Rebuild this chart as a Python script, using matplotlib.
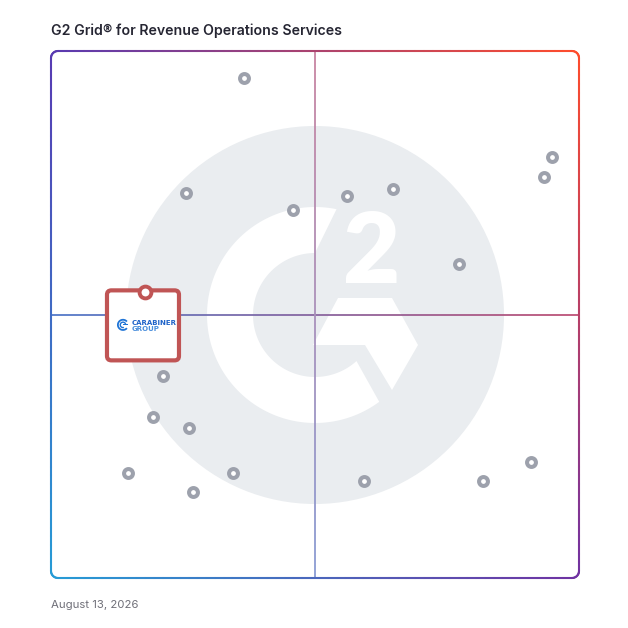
import numpy as np
import matplotlib
matplotlib.use("Agg")
import matplotlib.pyplot as plt
from matplotlib.collections import LineCollection
from matplotlib.patches import Circle, Polygon, FancyBboxPatch, Wedge, Rectangle

# ---------------- data ----------------
title = "G2 Grid\u00ae for Revenue Operations Services"
date_label = "August 13, 2026"
# market presence (x, 0-100) and satisfaction (y, 0-100) of the vendors
market_presence = [36.6, 25.5, 45.8, 56.1, 64.8, 77.3, 93.4, 94.8,
                   21.3, 19.4, 26.2, 14.6, 26.8, 34.4, 59.3, 81.9, 91.0]
satisfaction = [94.8, 73.1, 69.8, 72.4, 73.8, 59.6, 76.0, 79.8,
                38.3, 30.5, 28.5, 20.0, 16.4, 20.0, 18.5, 18.5, 22.1]
highlight_lines = ["CARABINER", "GROUP"]
highlight_x = 17.8
highlight_y = 54.2

# ---------------- layout ----------------
W = H = 628
fig = plt.figure(figsize=(6.28, 6.28), dpi=100)
fig.patch.set_facecolor("white")


def P(x, y):
    return (x / W, 1 - y / H)


L, T, R, B = 51, 51, 579, 578
ax = fig.add_axes([L / W, 1 - B / H, (R - L) / W, (B - T) / H])
ax.set_xlim(0, 100)
ax.set_ylim(0, 100)
ax.axis("off")
ax.patch.set_visible(False)
FT = fig.transFigure

# ---------------- G2 watermark ----------------
gray = "#eaedf0"
cx, cy = 315, 315
ax.add_patch(Circle(P(cx, cy), 189 / W, transform=FT, color=gray, zorder=0, clip_on=False, lw=0))

r_out, r_in = 108, 62
outer = np.linspace(np.deg2rad(78.5), np.deg2rad(306.5), 120)
inner = np.linspace(np.deg2rad(312), np.deg2rad(90), 120)
pts = [P(cx + r_out * np.cos(a), cy - r_out * np.sin(a)) for a in outer]
pts += [P(cx + r_in * np.cos(a), cy - r_in * np.sin(a)) for a in inner]
ax.add_patch(Polygon(pts, closed=True, transform=FT, color="white", lw=0, zorder=0.5, clip_on=False))

chev = [(338, 298), (392, 298), (418, 345), (392, 390), (365, 345), (313, 345)]
ax.add_patch(Polygon([P(*p) for p in chev], closed=True, transform=FT, color="white",
                     lw=0, zorder=0.5, clip_on=False))
fig.text(372 / W, 1 - 283 / H, "2", fontsize=71, fontweight="heavy", family="Lato",
         color="white", ha="center", va="baseline", zorder=0.6)

# ---------------- gradient frame ----------------
TLc = np.array([88, 58, 178]) / 255
TRc = np.array([255, 76, 44]) / 255
BLc = np.array([38, 156, 214]) / 255
BRc = np.array([112, 50, 162]) / 255


def bilinear(px, py):
    u = (px - L) / (R - L)
    v = (py - T) / (B - T)
    top = (1 - u) * TLc + u * TRc
    bot = (1 - u) * BLc + u * BRc
    return np.clip((1 - v) * top + v * bot, 0, 1)


def rounded_rect(x0, y0, x1, y1, r, n=60):
    pts = []

    def arc(cx_, cy_, a0, a1):
        for a in np.linspace(a0, a1, 12):
            pts.append((cx_ + r * np.cos(a), cy_ - r * np.sin(a)))
    for x in np.linspace(x0 + r, x1 - r, n):
        pts.append((x, y0))
    arc(x1 - r, y0 + r, np.pi / 2, 0)
    for y in np.linspace(y0 + r, y1 - r, n):
        pts.append((x1, y))
    arc(x1 - r, y1 - r, 0, -np.pi / 2)
    for x in np.linspace(x1 - r, x0 + r, n):
        pts.append((x, y1))
    arc(x0 + r, y1 - r, -np.pi / 2, -np.pi)
    for y in np.linspace(y1 - r, y0 + r, n):
        pts.append((x0, y))
    arc(x0 + r, y0 + r, np.pi, np.pi / 2)
    pts.append(pts[0])
    return np.array(pts)


def grad_line(pts, lw, fade=0.0, z=3, cap="round"):
    segs, cols = [], []
    for a, b in zip(pts[:-1], pts[1:]):
        segs.append([P(*a), P(*b)])
        m = (a + b) / 2
        c = bilinear(*m)
        c = (1 - fade) * c + fade * np.ones(3)
        cols.append(tuple(c))
    lc = LineCollection(segs, colors=cols, linewidths=lw, transform=FT, zorder=z,
                        capstyle=cap, clip_on=False)
    ax.add_collection(lc)


grad_line(rounded_rect(L, T, R, B, 7), 1.5, z=3)
mx = (L + R) / 2
my = (T + B) / 2
hpts = np.array([(x, my) for x in np.linspace(L, R, 200)])
vpts = np.array([(mx, y) for y in np.linspace(T, B, 200)])
grad_line(hpts, 1.3, fade=0.1, z=1, cap="butt")
grad_line(vpts, 1.3, fade=0.35, z=1, cap="butt")

# ---------------- vendor markers ----------------
ax.plot(market_presence, satisfaction, linestyle="none", marker="o", ms=6.4, mew=2.9,
        mfc="white", mec="#9da1ac", zorder=5, clip_on=False)

# ---------------- highlighted vendor ----------------
fig.canvas.draw()
dx, dy = ax.transData.transform((highlight_x, highlight_y))
hx, hy = dx, H - dy
red = "#c05555"
bw, bh = 72, 70
x0, y0 = hx - 38, hy - 2
box = FancyBboxPatch(P(x0, y0 + bh), bw / W, bh / H, boxstyle="round,pad=0,rounding_size=0.007",
                     transform=FT, facecolor="white", edgecolor=red, lw=3.0, zorder=6, clip_on=False)
ax.add_patch(box)
ax.plot([highlight_x], [highlight_y], linestyle="none", marker="o", ms=8.5, mew=2.8,
        mfc="white", mec=red, zorder=7, clip_on=False)

# logo icon
blue = "#1f74d6"
icx, icy = x0 + 16, y0 + 34.5
ax.add_patch(Wedge(P(icx, icy), 6.0 / W, 40, 320, width=1.8 / W, transform=FT,
                   color=blue, zorder=8, clip_on=False, lw=0))
ax.add_patch(Wedge(P(icx, icy), 3.4 / W, 0, 290, width=1.4 / W, transform=FT,
                   color=blue, zorder=8, clip_on=False, lw=0))
ax.add_patch(Rectangle(P(icx, icy + 0.6), 5.5 / W, 1.2 / H, transform=FT,
                       color=blue, zorder=8, clip_on=False, lw=0))
fig.text((x0 + 24.5) / W, 1 - (y0 + 34.3) / H, highlight_lines[0], fontsize=5.0,
         fontweight="bold", color="#1f63c8", ha="left", va="baseline", zorder=8)
fig.text((x0 + 24.5) / W, 1 - (y0 + 40.3) / H, highlight_lines[1], fontsize=5.0,
         fontweight="bold", color="#4b8fdc", ha="left", va="baseline", zorder=8)

# ---------------- texts ----------------
fig.text(51 / W, 1 - 35 / H, title, fontsize=10.2, fontweight="semibold", family="Inter",
         color="#262633", ha="left", va="baseline")
fig.text(51 / W, 1 - 608 / H, date_label, fontsize=8.2, family="Inter",
         color="#6f6f78", ha="left", va="baseline")

fig.savefig("out.png", dpi=100, facecolor="white")
